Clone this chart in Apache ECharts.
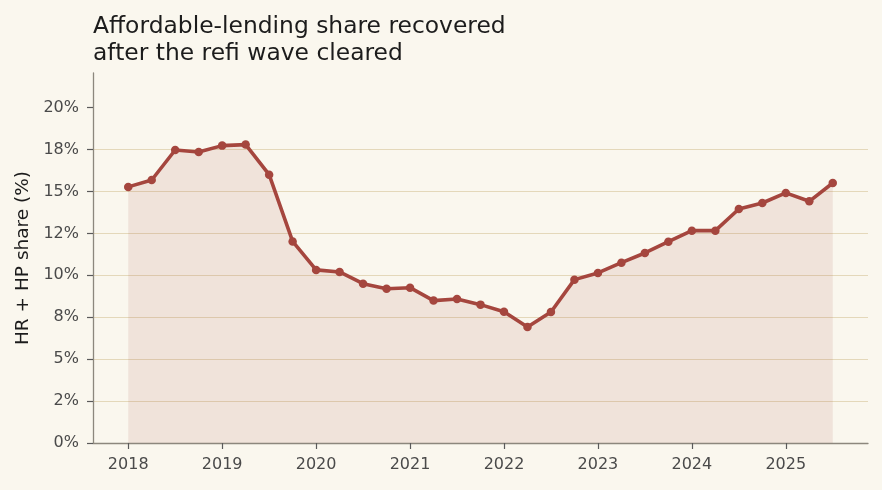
<!DOCTYPE html>
<html>
<head>
<meta charset="utf-8">
<script src="https://cdn.jsdelivr.net/npm/echarts@6/dist/echarts.min.js"></script>
<style>
  html, body { margin: 0; padding: 0; background: #faf7ee; }
  #chart { width: 882px; height: 490px; }
</style>
</head>
<body>
<div id="chart"></div>
<script>
  // quarterly points, 2018 Q1 .. 2025 Q3
  const quarters = [
    2018.00, 2018.25, 2018.50, 2018.75,
    2019.00, 2019.25, 2019.50, 2019.75,
    2020.00, 2020.25, 2020.50, 2020.75,
    2021.00, 2021.25, 2021.50, 2021.75,
    2022.00, 2022.25, 2022.50, 2022.75,
    2023.00, 2023.25, 2023.50, 2023.75,
    2024.00, 2024.25, 2024.50, 2024.75,
    2025.00, 2025.25, 2025.50
  ];
  const sharePct = [
    15.27, 15.68, 17.47, 17.35,
    17.73, 17.79, 16.00, 12.02,
    10.32, 10.20, 9.50, 9.20,
    9.26, 8.49, 8.59, 8.25,
    7.83, 6.92, 7.81, 9.74,
    10.14, 10.75, 11.33, 12.00,
    12.66, 12.66, 13.95, 14.31,
    14.91, 14.41, 15.50
  ];
  const yearTicks = [2018, 2019, 2020, 2021, 2022, 2023, 2024, 2025];
  const yTickValues = [0, 2.5, 5, 7.5, 10, 12.5, 15, 17.5, 20];
  const yTickLabels = ["0%", "2%", "5%", "8%", "10%", "12%", "15%", "18%", "20%"];

  const lineColor = "#a5463e";
  const font = "DejaVu Sans";

  const chart = echarts.init(document.getElementById("chart"));
  chart.setOption({
    backgroundColor: "#faf7ee",
    animation: false,
    title: {
      text: "Affordable-lending share recovered\nafter the refi wave cleared",
      left: 88,
      top: 8,
      textStyle: {
        fontFamily: font,
        fontSize: 23.4,
        fontWeight: "normal",
        lineHeight: 27,
        color: "#1c1c1c"
      }
    },
    grid: { left: 93, right: 14, top: 73, bottom: 47 },
    xAxis: {
      type: "value",
      min: 2017.625,
      max: 2025.875,
      axisLine: { lineStyle: { color: "#8c877d", width: 1.3 } },
      axisTick: {
        customValues: yearTicks,
        length: 6,
        lineStyle: { color: "#5a5a5a", width: 1.2 }
      },
      axisLabel: {
        customValues: yearTicks,
        margin: 14,
        color: "#4a4a4a",
        fontFamily: font,
        fontSize: 16,
        formatter: function (v) { return String(Math.round(v)); }
      },
      splitLine: { show: false }
    },
    yAxis: {
      type: "value",
      min: 0,
      max: 22.06,
      interval: 2.5,
      name: "HR + HP share (%)",
      nameLocation: "middle",
      nameGap: 60,
      nameTextStyle: { fontFamily: font, fontSize: 18.5, color: "#1c1c1c" },
      axisLine: { show: true, lineStyle: { color: "#8c877d", width: 1.3 } },
      axisTick: {
        show: true,
        customValues: yTickValues,
        length: 6,
        lineStyle: { color: "#5a5a5a", width: 1.2 }
      },
      axisLabel: {
        customValues: yTickValues,
        margin: 14,
        color: "#4a4a4a",
        fontFamily: font,
        fontSize: 16,
        formatter: function (v) {
          const i = yTickValues.indexOf(v);
          return i >= 0 ? yTickLabels[i] : "";
        }
      },
      splitLine: {
        show: true,
        showMinLine: false,
        showMaxLine: false,
        lineStyle: { color: "#e4d8ba", width: 1.2 }
      }
    },
    series: [
      {
        type: "line",
        data: quarters.map(function (q, i) { return [q, sharePct[i]]; }),
        symbol: "circle",
        symbolSize: 8.5,
        lineStyle: { color: lineColor, width: 3.6 },
        itemStyle: { color: lineColor },
        areaStyle: { color: lineColor, opacity: 0.11 }
      }
    ]
  });
</script>
</body>
</html>
